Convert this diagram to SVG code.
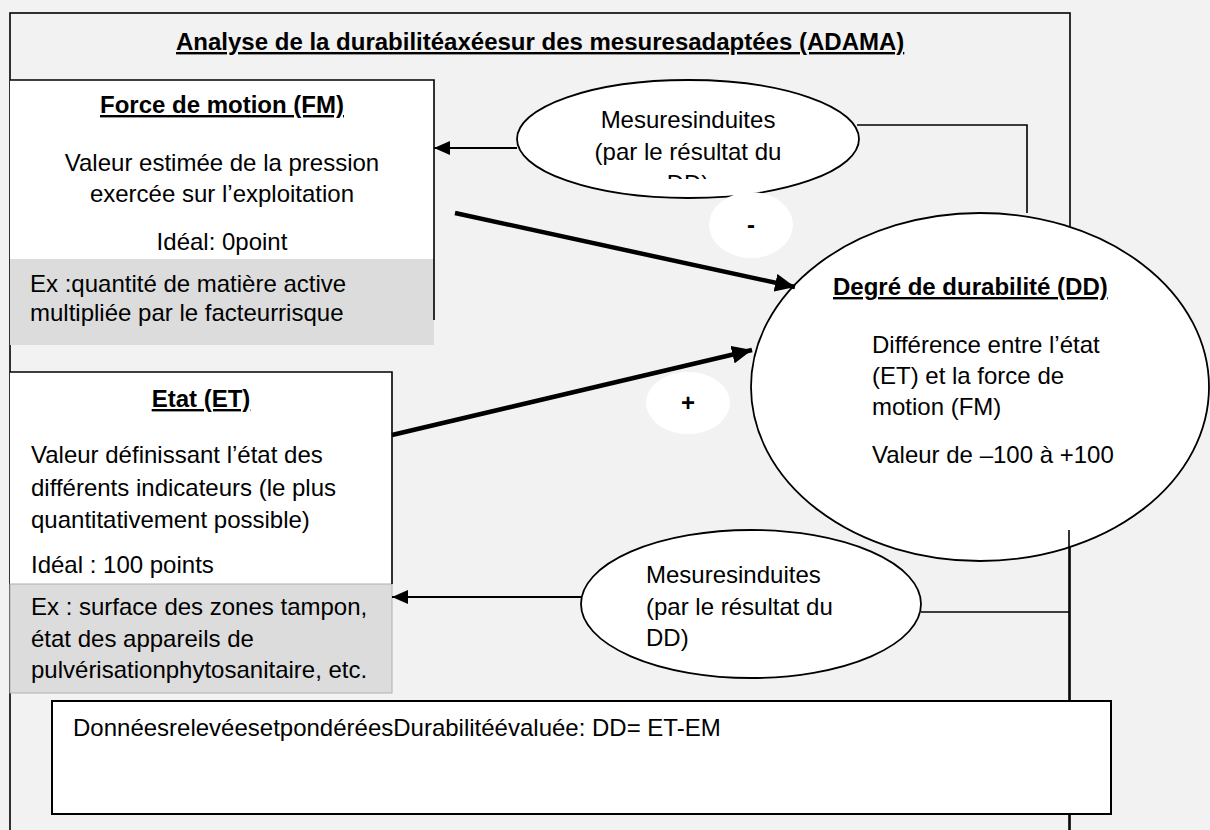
<svg xmlns="http://www.w3.org/2000/svg" width="1210" height="830" viewBox="0 0 1210 830">
<style>
text{font-family:"Liberation Sans",Arial,sans-serif;font-size:24px;fill:#000}
.b{font-weight:bold}
.u{text-decoration:underline}
.m{text-anchor:middle}
.ln{fill:none;stroke:#000;stroke-width:1.6}
.thin{fill:none;stroke:#000;stroke-width:2}
.thick{fill:none;stroke:#000;stroke-width:4.5}
.grey{fill:#dcdcdc}
.node{fill:#fff;stroke:#000;stroke-width:1.8}
</style>
<defs>
<marker id="ah" markerUnits="userSpaceOnUse" markerWidth="18" markerHeight="14" refX="16" refY="7" orient="auto">
<path d="M0,0 L16,7 L0,14 Z" fill="#000"/>
</marker>
<marker id="ahk" markerUnits="userSpaceOnUse" markerWidth="22" markerHeight="18" refX="20" refY="9" orient="auto">
<path d="M0,0 L20,9 L0,18 Z" fill="#000"/>
</marker>
<clipPath id="clipTop"><rect x="500" y="60" width="400" height="119"/></clipPath>
</defs>
<rect x="0" y="0" width="1210" height="830" fill="#f2f2f2"/>

<g id="frame">
<rect x="10" y="13" width="1060" height="840" fill="none" stroke="#000" stroke-width="1.6"/>
</g>

<g id="title">
<text x="176" y="50" class="b u">Analyse de la durabilitéaxéesur des mesuresadaptées (ADAMA)</text>
</g>

<g id="fm">
<rect x="10" y="80" width="424" height="240" fill="#fff"/>
<rect x="10" y="259" width="424" height="86" class="grey"/>
<path d="M10,80 H434 V320" class="ln"/>
<text x="222" y="113" class="b u m">Force de motion (FM)</text>
<text x="222" y="171" class="m">Valeur estimée de la pression</text>
<text x="222" y="202" class="m">exercée sur l’exploitation</text>
<text x="222" y="250" class="m">Idéal: 0point</text>
<text x="30" y="292">Ex :quantité de matière active</text>
<text x="30" y="321">multipliée par le facteurrisque</text>
</g>

<g id="et">
<rect x="10" y="372" width="382" height="212" fill="#fff"/>
<rect x="10" y="584" width="382" height="109" class="grey" stroke="#b0b0b0" stroke-width="1"/>
<path d="M10,372 H392 V584" class="ln"/>
<text x="201" y="407" class="b u m">Etat (ET)</text>
<text x="31" y="463">Valeur définissant l’état des</text>
<text x="31" y="496">différents indicateurs (le plus</text>
<text x="31" y="528">quantitativement possible)</text>
<text x="31" y="573">Idéal : 100 points</text>
<text x="31" y="615">Ex : surface des zones tampon,</text>
<text x="31" y="647">état des appareils de</text>
<text x="31" y="678">pulvérisationphytosanitaire, etc.</text>
</g>

<g id="mesures-haut">
<ellipse cx="688" cy="139" rx="171" ry="59" class="node"/>
<g clip-path="url(#clipTop)">
<text x="688" y="128" class="m">Mesuresinduites</text>
<text x="688" y="160" class="m">(par le résultat du</text>
<text x="688" y="192" class="m">DD)</text>
</g>
</g>

<g id="moins">
<ellipse cx="751" cy="225" rx="42" ry="33" fill="#fff"/>
<text x="751" y="233" class="b m">-</text>
</g>

<g id="dd">
<ellipse cx="980" cy="387" rx="229" ry="174" class="node"/>
<text x="833" y="295" class="b u">Degré de durabilité (DD)</text>
<text x="872" y="353">Différence entre l’état</text>
<text x="872" y="384">(ET) et la force de</text>
<text x="872" y="415">motion (FM)</text>
<text x="872" y="463">Valeur de –100 à +100</text>
</g>

<g id="plus">
<ellipse cx="688" cy="403" rx="42" ry="31" fill="#fff"/>
<text x="688" y="411" class="b m">+</text>
</g>

<g id="mesures-bas">
<ellipse cx="751" cy="604" rx="170" ry="74" class="node"/>
<text x="646" y="583">Mesuresinduites</text>
<text x="646" y="615">(par le résultat du</text>
<text x="646" y="646">DD)</text>
</g>

<g id="connectors">
<line x1="517" y1="148" x2="434" y2="148" class="thin" marker-end="url(#ah)"/>
<polyline points="857,125 1027,125 1027,213" class="ln"/>
<line x1="455" y1="213" x2="795" y2="287" class="thick" marker-end="url(#ahk)"/>
<line x1="392" y1="435" x2="752" y2="350" class="thick" marker-end="url(#ahk)"/>
<line x1="581" y1="597" x2="392" y2="597" class="thin" marker-end="url(#ah)"/>
<line x1="921" y1="612" x2="1069" y2="612" class="ln"/>
<line x1="1069" y1="530" x2="1069" y2="830" class="ln"/>
</g>

<g id="resultat">
<rect x="52" y="701" width="1059" height="113" fill="#fff" stroke="#000" stroke-width="2"/>
<text x="73" y="736">DonnéesrelevéesetpondéréesDurabilitéévaluée: DD= ET-EM</text>
</g>
</svg>
